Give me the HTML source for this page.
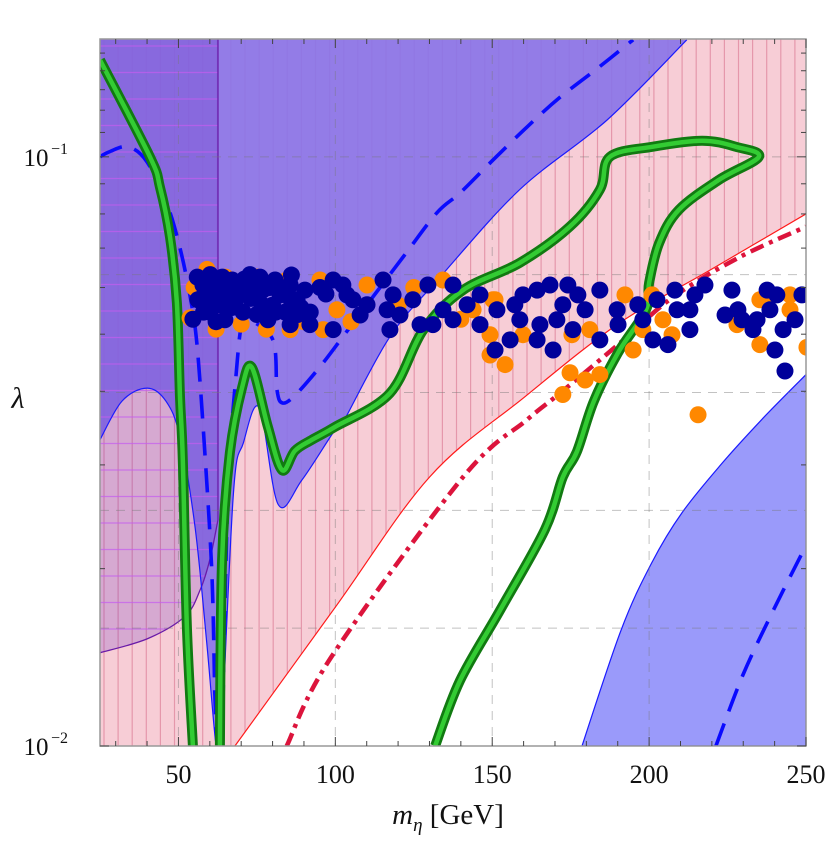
<!DOCTYPE html>
<html><head><meta charset="utf-8"><title>lambda vs m_eta</title>
<style>
html,body{margin:0;padding:0;background:#fff;}
svg{display:block;}
text{font-family:"Liberation Serif","DejaVu Serif",serif;fill:#111;}
</style></head>
<body>
<svg id="chart" width="830" height="842" viewBox="0 0 830 842" xmlns="http://www.w3.org/2000/svg">
<defs>
<clipPath id="plotclip"><rect x="100" y="39" width="706" height="707"/></clipPath>
</defs>
<g id="plot" clip-path="url(#plotclip)"></g>
<g id="axes"></g>
<text x="18" y="408" font-size="30" font-style="italic" text-anchor="middle">λ</text>
<text x="448" y="824" font-size="29" text-anchor="middle"><tspan font-style="italic">m</tspan><tspan font-style="italic" font-size="19" dy="7">η</tspan><tspan dy="-7"> [GeV]</tspan></text>
</svg>
<script>
// ---- data (mass in GeV, lambda) ----
const xTicks = [50, 100, 150, 200, 250];
const xTickLabels = ["50", "100", "150", "200", "250"];
const redLineM = [68, 100, 130, 160, 190, 220, 250];
const redLineL = [0.01, 0.0172, 0.0286, 0.039, 0.052, 0.0645, 0.080];
const purpleBoundM = [25, 32, 40, 46, 50.5, 55.3, 59, 62, 63.5, 67.5, 70.7, 75.8, 81.8, 89.4, 99.9, 102.4, 117.4, 133.4, 158.8, 186.6, 212];
const purpleBoundL = [0.0331, 0.0385, 0.0405, 0.0385, 0.0335, 0.0235, 0.015, 0.01, 0.01, 0.0268, 0.0327, 0.0375, 0.0257, 0.0283, 0.0344, 0.0354, 0.0495, 0.0625, 0.088, 0.1155, 0.158];
const darkLineM = [25, 40, 52.1, 56.9, 60, 62.6];
const darkLineL = [0.0144, 0.0152, 0.0166, 0.0184, 0.0207, 0.0242];
const blueRegM = [178.6, 191, 200.7, 210.5, 223.5, 236.3, 250];
const blueRegL = [0.01, 0.0157, 0.0204, 0.0249, 0.0303, 0.036, 0.0427];
const dashAM = [25, 28, 34, 40, 46.4, 50.5, 53.7, 55.9, 58.5, 60.7, 61.6, 62.3];
const dashAL = [0.100, 0.102, 0.104, 0.098, 0.083, 0.070, 0.058, 0.048, 0.031, 0.0194, 0.0123, 0.01];
const dashBM = [63.9, 65.8, 68.7, 70.3, 72.2, 80.1, 81.4, 83.3, 87.8, 96.1, 104.7, 121.6, 132.4, 139.7, 150.2, 161.1, 171.6, 183.4, 194.9];
const dashBL = [0.01, 0.0269, 0.0447, 0.0523, 0.053, 0.0489, 0.0402, 0.0382, 0.0397, 0.0447, 0.0514, 0.0676, 0.0804, 0.0868, 0.0987, 0.1124, 0.1262, 0.1411, 0.158];
const dashCM = [221.3, 229.9, 239.6, 250];
const dashCL = [0.01, 0.0132, 0.0170, 0.0219];
const dashDotM = [84.5, 98.7, 140.7, 161.1, 171.6, 190.7, 207.6, 228.9, 250];
const dashDotL = [0.01, 0.01416, 0.0286, 0.0358, 0.0397, 0.0483, 0.0578, 0.0676, 0.0761];
const greenAM = [25, 40.9, 44.1, 47.3, 49.5, 50.5, 51.4, 52.7, 54.6];
const greenAL = [0.146, 0.1, 0.0889, 0.0731, 0.0565, 0.0391, 0.0306, 0.0159, 0.01];
const greenBM = [63.2, 63.9, 66.4, 70.3, 73.4, 78.5, 83, 87.1, 92.6, 99.9, 117.4, 128, 140.7, 158.8, 174.7, 184.3, 187.5, 201, 216.9, 227.7, 235, 222.3, 209.5, 203.2, 200, 199, 190.1, 182.4, 177, 172.5, 166.8, 152.5, 139.7, 131.8];
const greenBL = [0.01, 0.0207, 0.0315, 0.0406, 0.0439, 0.0348, 0.0294, 0.0317, 0.0331, 0.0348, 0.0397, 0.0508, 0.0594, 0.0661, 0.0761, 0.0879, 0.1, 0.104, 0.1065, 0.104, 0.1, 0.0914, 0.0813, 0.0714, 0.0611, 0.055, 0.0465, 0.0385, 0.0316, 0.0286, 0.0233, 0.017, 0.0129, 0.01];
const orangeM = [53.7, 59.1, 85.6, 84.6, 95.1, 110.1, 96.1, 100.5, 134.3, 150.2, 149.3, 143.9, 150.9, 154.1, 149.3, 159.8, 175.4, 181.1, 192.3, 194.9, 174.8, 179.6, 184.3, 172.5, 200.9, 198, 204.4, 207.3, 215.6, 228, 235.3, 235.3, 237.6, 244.9, 244.9, 250.3, 55, 65, 75, 62, 70, 78, 90, 105, 120, 125, 140];
const orangeL = [0.0533, 0.0644, 0.0509, 0.0618, 0.0618, 0.0606, 0.0509, 0.055, 0.0618, 0.0572, 0.0461, 0.055, 0.0572, 0.0444, 0.0499, 0.0499, 0.0499, 0.0509, 0.0583, 0.047, 0.043, 0.0418, 0.0427, 0.0395, 0.0583, 0.0509, 0.0529, 0.0499, 0.0365, 0.0519, 0.048, 0.0572, 0.0583, 0.0583, 0.055, 0.0475, 0.060, 0.0625, 0.0625, 0.051, 0.052, 0.051, 0.0525, 0.0525, 0.056, 0.060, 0.053];
const blueM = [54.6, 56.2, 57.8, 60.1, 61.6, 63.2, 64.8, 67.1, 69, 70.6, 72.8, 74.7, 76.6, 78.5, 80.8, 82.4, 85.6, 87.8, 90.3, 84, 85.6, 91.9, 99.3, 102.4, 105.6, 107.9, 99.3, 103.7, 110.1, 115.2, 118.4, 116.5, 117.4, 120.6, 124.7, 127, 129.5, 131.1, 134.3, 137.5, 137.5, 142, 146.1, 146.1, 151.5, 150.9, 58, 62, 66, 71, 75, 79, 88, 95.1, 56, 60, 64, 68, 72, 76, 80, 86, 92, 97,
  157.2, 159.8, 164.3, 168.4, 174.1, 177.3, 158.8, 155.7, 164.3, 169.4, 165.2, 170.6, 175.7, 179.6, 172.5, 184.3, 184.3, 189.8, 190.1, 196.4, 198, 201.2, 202.5, 206, 208.2, 208.9, 213, 213, 214.6, 217.8, 226.4, 224.2, 228.3, 229.6, 233.1, 234.4, 237.6, 240.7, 238.5, 242.7, 246.5, 248.7, 240.1, 243.3,
  58, 63, 67, 73, 77, 81, 86, 60, 70, 65, 83, 89];
const blueL = [0.053, 0.0572, 0.0606, 0.0631, 0.0594, 0.0561, 0.0529, 0.0618, 0.0583, 0.0545, 0.0631, 0.0594, 0.0561, 0.0529, 0.0618, 0.0583, 0.0606, 0.0572, 0.0594, 0.0545, 0.0519, 0.0519, 0.0618, 0.0606, 0.0572, 0.0539, 0.0509, 0.0583, 0.0561, 0.0618, 0.0583, 0.055, 0.0509, 0.0539, 0.0572, 0.0519, 0.0606, 0.0519, 0.055, 0.0606, 0.0529, 0.0561, 0.0583, 0.0519, 0.055, 0.047, 0.0545, 0.0525, 0.060, 0.062, 0.054, 0.060, 0.054, 0.060, 0.0625, 0.0575, 0.0625, 0.0565, 0.0600, 0.0625, 0.0560, 0.0630, 0.0545, 0.0585,
  0.0561, 0.0583, 0.0594, 0.0606, 0.0606, 0.0583, 0.0529, 0.0489, 0.0489, 0.047, 0.0519, 0.0529, 0.0509, 0.055, 0.0561, 0.0594, 0.0489, 0.055, 0.0519, 0.0561, 0.0529, 0.0489, 0.0572, 0.048, 0.0594, 0.055, 0.055, 0.0509, 0.0583, 0.0606, 0.0594, 0.0539, 0.055, 0.0529, 0.0509, 0.0529, 0.0594, 0.0583, 0.055, 0.0509, 0.0529, 0.0583, 0.047, 0.0433,
  0.058, 0.060, 0.0555, 0.0575, 0.0595, 0.0545, 0.0570, 0.0545, 0.0600, 0.0585, 0.0600, 0.0555];

// ---- scales ----
const M0 = 25, M1 = 250, L0 = 0.01, L1 = Math.pow(10, -0.8);
const X0 = 100, X1 = 806, Y0 = 746, Y1 = 39;
function xs(m) { return X0 + (m - M0) / (M1 - M0) * (X1 - X0); }
function ys(l) { return Y0 - (Math.log10(l) - Math.log10(L0)) / (Math.log10(L1) - Math.log10(L0)) * (Y0 - Y1); }
const NS = "http://www.w3.org/2000/svg";
const plot = document.getElementById('plot');
const axes = document.getElementById('axes');
function mk(tag, parent) { const e = document.createElementNS(NS, tag); parent.appendChild(e); return e; }
function pxs(ms, ls) { return ms.map((m, i) => [xs(m), ys(ls[i])]); }
function smooth(p) {
  let d = p[0][0].toFixed(1) + ',' + p[0][1].toFixed(1);
  for (let i = 0; i < p.length - 1; i++) {
    const p0 = p[Math.max(0, i - 1)], p1 = p[i], p2 = p[i + 1], p3 = p[Math.min(p.length - 1, i + 2)];
    const c1x = p1[0] + (p2[0] - p0[0]) / 6, c1y = p1[1] + (p2[1] - p0[1]) / 6;
    const c2x = p2[0] - (p3[0] - p1[0]) / 6, c2y = p2[1] - (p3[1] - p1[1]) / 6;
    d += ' C' + c1x.toFixed(1) + ',' + c1y.toFixed(1) + ' ' + c2x.toFixed(1) + ',' + c2y.toFixed(1) + ' ' + p2[0].toFixed(1) + ',' + p2[1].toFixed(1);
  }
  return d;
}
function curveD(ms, ls) { return 'M' + smooth(pxs(ms, ls)); }

// pink hatched region
const pinkD = 'M' + xs(25) + ',' + ys(L1) + ' L' + xs(25) + ',' + ys(L0) + ' L' + smooth(pxs(redLineM, redLineL)) + ' L' + xs(250) + ',' + ys(L1) + 'Z';
const pink = mk('path', plot);
pink.setAttribute('d', pinkD);
pink.setAttribute('fill', '#f7cdd6');


const hclip = mk('clipPath', plot); hclip.setAttribute('id', 'pinkclip');
const hcp = mk('path', hclip); hcp.setAttribute('d', pinkD);
const hatchG = mk('g', plot);


hatchG.setAttribute('clip-path', 'url(#pinkclip)');
for (let x = 104; x < 808; x += 14.1) {
  const l = mk('line', hatchG);
  l.setAttribute('x1', x); l.setAttribute('x2', x); l.setAttribute('y1', 39); l.setAttribute('y2', 746);
  l.setAttribute('stroke', '#e597ab'); l.setAttribute('stroke-width', '1.2');
}

// light purple region
const lp = mk('path', plot);
lp.setAttribute('d', curveD(purpleBoundM, purpleBoundL) + ' L' + xs(25) + ',' + ys(L1) + 'Z');
lp.setAttribute('fill', 'rgb(135,115,233)'); lp.setAttribute('fill-opacity', '0.9');



// dark overlay (left band)
const darkD = curveD(darkLineM, darkLineL) + ' L' + xs(62.6) + ',' + ys(L1) + ' L' + xs(25) + ',' + ys(L1) + 'Z';
const dk = mk('path', plot);
dk.setAttribute('d', darkD);
dk.setAttribute('fill', 'rgb(100,40,190)'); dk.setAttribute('fill-opacity', '0.22');


const dclip = mk('clipPath', plot); dclip.setAttribute('id', 'darkclip');
const dcp = mk('path', dclip); dcp.setAttribute('d', darkD);
const hg2 = mk('g', plot); hg2.setAttribute('clip-path', 'url(#darkclip)');


for (let y = 46; y < 746; y += 26.5) {
  const l = mk('line', hg2);
  l.setAttribute('x1', 100); l.setAttribute('x2', xs(62.6)); l.setAttribute('y1', y); l.setAttribute('y2', y);
  l.setAttribute('stroke', '#c45cf0'); l.setAttribute('stroke-width', '1.2'); l.setAttribute('stroke-opacity', '0.7');
}
const dl = mk('path', plot);
dl.setAttribute('d', curveD(darkLineM, darkLineL) + ' L' + xs(62.6) + ',' + ys(L1));
dl.setAttribute('fill', 'none'); dl.setAttribute('stroke', '#6a1aa8'); dl.setAttribute('stroke-width', '1.3');



// bottom-right blue region
const br = mk('path', plot);
br.setAttribute('d', curveD(blueRegM, blueRegL) + ' L' + xs(250) + ',' + ys(L0) + 'Z');
br.setAttribute('fill', '#9a9afa'); br.setAttribute('stroke', '#1a1aff'); br.setAttribute('stroke-width', '1.2');



// grid
const grid = mk('g', plot);


xTicks.slice(0, 4).forEach(m => {
  const l = mk('line', grid);
  l.setAttribute('x1', xs(m)); l.setAttribute('x2', xs(m)); l.setAttribute('y1', 39); l.setAttribute('y2', 746);
  l.setAttribute('stroke', '#777'); l.setAttribute('stroke-opacity', '0.45'); l.setAttribute('stroke-dasharray', '9,7');
});
for (let k = 1; k <= 5; k++) {
  const lv = Math.pow(10, -2 + 0.2 * k);
  const l = mk('line', grid);
  l.setAttribute('x1', 100); l.setAttribute('x2', 806); l.setAttribute('y1', ys(lv)); l.setAttribute('y2', ys(lv));
  l.setAttribute('stroke', '#777'); l.setAttribute('stroke-opacity', '0.45'); l.setAttribute('stroke-dasharray', '9,7');
}

// boundaries
const bb = mk('path', plot);
bb.setAttribute('d', curveD(purpleBoundM, purpleBoundL));
bb.setAttribute('fill', 'none'); bb.setAttribute('stroke', '#1a1aff'); bb.setAttribute('stroke-width', '1.2');


const rl = mk('path', plot);
rl.setAttribute('d', curveD(redLineM, redLineL));
rl.setAttribute('fill', 'none'); rl.setAttribute('stroke', '#ff1a1a'); rl.setAttribute('stroke-width', '1.2');



// dashed blue
[[dashAM, dashAL, 'dashed-limit-left'], [dashBM, dashBL, 'dashed-limit-main'], [dashCM, dashCL, 'dashed-limit-right']].forEach(a => {
  const p = mk('path', plot);
  p.setAttribute('d', curveD(a[0], a[1]));
  p.setAttribute('fill', 'none'); p.setAttribute('stroke', '#0a0aff'); p.setAttribute('stroke-width', '3.6');
  p.setAttribute('stroke-dasharray', '24,13'); p.setAttribute('stroke-linejoin', 'round');
  
  
});

// red dash-dot
const rd = mk('path', plot);
rd.setAttribute('d', curveD(dashDotM, dashDotL));
rd.setAttribute('fill', 'none'); rd.setAttribute('stroke', '#dc143c'); rd.setAttribute('stroke-width', '4.5');
rd.setAttribute('stroke-dasharray', '14,6,4,6');



// green bands
[[greenAM, greenAL, 'relic-density-band-left'], [greenBM, greenBL, 'relic-density-band-main']].forEach(a => {
  const g = mk('g', plot);
  
  
  const o = mk('path', g);
  o.setAttribute('d', curveD(a[0], a[1]));
  o.setAttribute('fill', 'none'); o.setAttribute('stroke', '#117a11'); o.setAttribute('stroke-width', '10');
  o.setAttribute('stroke-linejoin', 'round');
  const i = mk('path', g);
  i.setAttribute('d', curveD(a[0], a[1]));
  i.setAttribute('fill', 'none'); i.setAttribute('stroke', '#33cc33'); i.setAttribute('stroke-width', '4.5');
  i.setAttribute('stroke-linejoin', 'round');
});

// scatter
const og = mk('g', plot);


orangeM.forEach((m, i) => {
  const c = mk('circle', og);
  c.setAttribute('cx', xs(m)); c.setAttribute('cy', ys(orangeL[i])); c.setAttribute('r', 8.5);
  c.setAttribute('fill', '#ff8800');
  
  
});
const bg = mk('g', plot);


blueM.forEach((m, i) => {
  const c = mk('circle', bg);
  c.setAttribute('cx', xs(m)); c.setAttribute('cy', ys(blueL[i])); c.setAttribute('r', 8.5);
  c.setAttribute('fill', '#00009a');
  
  
});

// frame
const fr = mk('rect', axes);
fr.setAttribute('x', 100); fr.setAttribute('y', 39); fr.setAttribute('width', 706); fr.setAttribute('height', 707);
fr.setAttribute('fill', 'none'); fr.setAttribute('stroke', '#999'); fr.setAttribute('stroke-width', '1.5');



// ticks
const tg = mk('g', axes);


function tick(x1, y1, x2, y2) { const l = mk('line', tg); l.setAttribute('x1', x1); l.setAttribute('y1', y1); l.setAttribute('x2', x2); l.setAttribute('y2', y2); l.setAttribute('stroke', '#444'); l.setAttribute('stroke-width', '1'); }
for (let m = 30; m <= 250; m += 10) {
  const len = (m % 50 === 0) ? 9 : 5;
  tick(xs(m), 746, xs(m), 746 - len); tick(xs(m), 39, xs(m), 39 + len);
}
[0.01, 0.02, 0.03, 0.04, 0.05, 0.06, 0.07, 0.08, 0.09, 0.1, 0.11, 0.12, 0.13, 0.14, 0.15].forEach(v => {
  const len = (v === 0.01 || v === 0.1) ? 9 : 5;
  tick(100, ys(v), 100 + len, ys(v)); tick(806, ys(v), 806 - len, ys(v));
});

// tick labels
xTicks.forEach((m, i) => {
  const t = mk('text', axes);
  t.setAttribute('x', xs(m)); t.setAttribute('y', 783); t.setAttribute('text-anchor', 'middle'); t.setAttribute('font-size', '26');
  t.textContent = xTickLabels[i];
  
  
});
[[0.1, '\u22121'], [0.01, '\u22122']].forEach(a => {
  const t = mk('text', axes);
  t.setAttribute('x', 36); t.setAttribute('y', ys(a[0]) + 9); t.setAttribute('text-anchor', 'middle'); t.setAttribute('font-size', '25');
  t.textContent = '10';
  
  
  const s = mk('text', axes);
  s.setAttribute('x', 51); s.setAttribute('y', ys(a[0]) - 3); s.setAttribute('font-size', '16');
  s.textContent = a[1];
  
  
});
</script>
</body></html>
